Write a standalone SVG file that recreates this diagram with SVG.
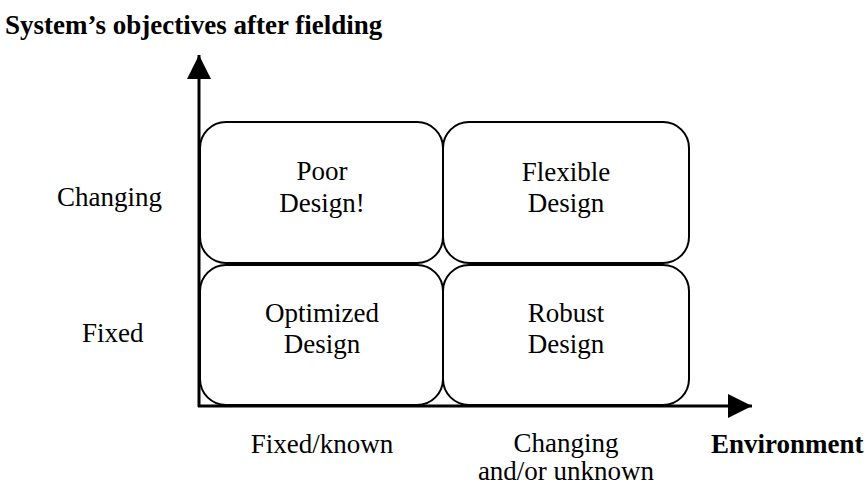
<svg xmlns="http://www.w3.org/2000/svg" width="867" height="485" viewBox="0 0 867 485">
<style>
.t{font-family:"Liberation Serif","Times New Roman",serif;font-size:27px;fill:#000}
.b{font-weight:bold}
.m{text-anchor:middle}
.box{fill:#fff;stroke:#000;stroke-width:2}
.ax{stroke:#000;stroke-width:3;fill:none}
</style>
<defs>
<marker id="ah" markerUnits="userSpaceOnUse" markerWidth="26" markerHeight="26" refX="24" refY="12" orient="auto" viewBox="0 0 26 24">
<path d="M0,0 L24,12 L0,24 Z" fill="#000"/>
</marker>
</defs>
<rect width="867" height="485" fill="#fff"/>
<text class="t b" x="5" y="34">System’s objectives after fielding</text>
<g id="poor"><rect class="box" x="200" y="122" width="243" height="141" rx="26"/><text class="t m" x="322" y="180">Poor</text><text class="t m" x="322" y="212">Design!</text></g>
<g id="flexible"><rect class="box" x="443" y="122" width="246" height="141" rx="26"/><text class="t m" x="566" y="181">Flexible</text><text class="t m" x="566" y="212">Design</text></g>
<g id="optimized"><rect class="box" x="200" y="265" width="243" height="140" rx="26"/><text class="t m" x="322" y="322">Optimized</text><text class="t m" x="322" y="353">Design</text></g>
<g id="robust"><rect class="box" x="443" y="265" width="246" height="140" rx="26"/><text class="t m" x="566" y="322">Robust</text><text class="t m" x="566" y="353">Design</text></g>
<g id="connectors">
<line class="ax" x1="199" y1="407" x2="199" y2="55" marker-end="url(#ah)"/>
<line class="ax" x1="198" y1="406" x2="752" y2="406" marker-end="url(#ah)"/>
</g>
<text class="t" x="57" y="206">Changing</text>
<text class="t" x="82" y="342">Fixed</text>
<text class="t m" x="322" y="453">Fixed/known</text>
<text class="t m" x="566" y="452">Changing</text>
<text class="t m" x="566" y="480">and/or unknown</text>
<text class="t b" x="711" y="453">Environment</text>
</svg>
